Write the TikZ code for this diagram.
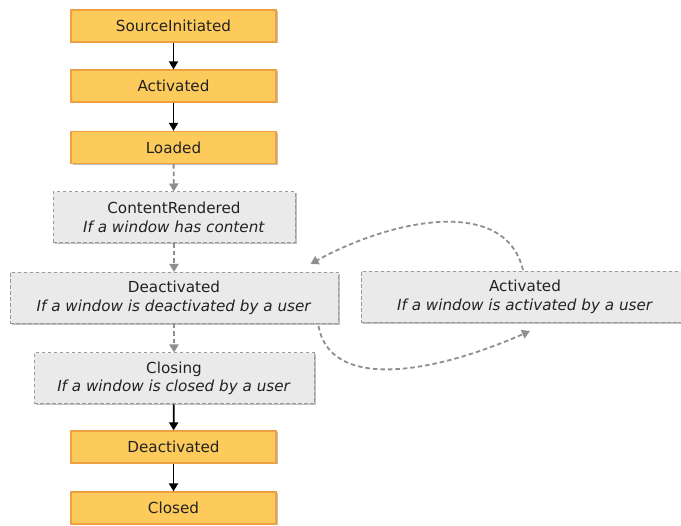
\documentclass[tikz,border=0pt]{standalone}
\usepackage{fontspec}
\setmainfont{DejaVu Sans}
\usetikzlibrary{arrows.meta,shadows,calc}
\definecolor{yfill}{HTML}{FDCB5C}
\definecolor{ydraw}{HTML}{F0A040}
\definecolor{gfill}{HTML}{EAEAEB}
\definecolor{gdraw}{HTML}{9A9A9A}
\definecolor{garr}{HTML}{8E8E8E}
\definecolor{txt}{HTML}{222222}
\begin{document}
\begin{tikzpicture}[x=1pt,y=-1pt,
  every node/.style={text=txt, font=\fontsize{15.2}{18.5}\selectfont, inner sep=0pt},
  ybox/.style={draw=ydraw, fill=yfill, line width=1.2pt, minimum width=205pt, minimum height=32pt,
    drop shadow={shadow xshift=1.5pt, shadow yshift=-1.5pt, fill=black, opacity=0.25}},
  gbox/.style={draw=gdraw, fill=gfill, line width=1pt, dash pattern=on 3.5pt off 2.5pt, align=center, minimum height=51pt,
    drop shadow={shadow xshift=1.5pt, shadow yshift=-1.5pt, fill=black, opacity=0.25}},
  barrow/.style={draw=black, line width=1.8pt, -{Triangle[length=8pt,width=9pt]}},
  darrow/.style={draw=garr, line width=1.8pt, dash pattern=on 4.5pt off 3pt, -{Triangle[length=8pt,width=9pt]}}
]
\useasboundingbox (0,0) rectangle (681,526);
\fill[white] (0,0) rectangle (681,526);
\node[ybox] (src) at (173.5,26) {SourceInitiated};
\node[ybox] (act) at (173.5,86) {Activated};
\node[ybox] (load) at (173.5,147.5) {Loaded};
\node[gbox, minimum width=242pt] (cr) at (174,217.5) {ContentRendered\\\textit{If a window has content}};
\node[gbox, minimum width=328pt] (deact) at (174,298) {Deactivated\\\textit{If a window is deactivated by a user}};
\node[gbox, minimum width=328pt] (act2) at (525,297) {Activated\\\textit{If a window is activated by a user}};
\node[gbox, minimum width=280pt] (clos) at (174,378.5) {Closing\\\textit{If a window is closed by a user}};
\node[ybox] (deact2) at (173.5,447) {Deactivated};
\node[ybox] (closed) at (173.5,508) {Closed};

\draw[barrow] (src) -- (act);
\draw[barrow] (act) -- (load);
\draw[darrow] (load) -- (cr);
\draw[darrow] (cr) -- (deact);
\draw[darrow] (deact) -- (clos);
\draw[barrow] (clos) -- (deact2);
\draw[barrow] (deact2) -- (closed);

\coordinate (t1) at ($(deact.north east)+(-28,-8)$);
\coordinate (t2) at ($(act2.south)+(5,8)$);
\draw[darrow] ($(act2.north)+(-2,-1)$) .. controls (505,195) and (390,220) .. (t1);
\draw[darrow] ($(deact.south east)+(-20,2)$) .. controls (330,390) and (430,375) .. (t2);
\end{tikzpicture}
\end{document}
